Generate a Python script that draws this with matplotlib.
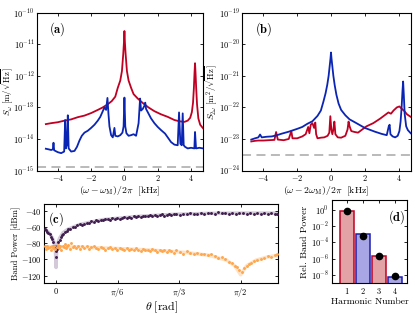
import numpy as np
import matplotlib
matplotlib.use("Agg")
import matplotlib.pyplot as plt
from matplotlib.ticker import LogLocator, NullLocator, FixedLocator

plt.rcParams['font.family'] = 'serif'
plt.rcParams['font.serif'] = ['cmr10']
plt.rcParams['mathtext.fontset'] = 'cm'
plt.rcParams['axes.formatter.use_mathtext'] = True
plt.rcParams['axes.unicode_minus'] = True

# ---- panel (a): first harmonic spectra, log10 of S_omega ----
fa_red = [-4.72, -4.4, -4.0, -3.6, -3.2, -2.8, -2.4, -2.0, -1.6, -1.3, -1.0, -0.76, -0.55,
          -0.4, -0.25, -0.15, -0.07, -0.03, 0.0, 0.03, 0.07, 0.15, 0.25, 0.4, 0.55, 0.8,
          1.1, 1.44, 1.8, 2.2, 2.6, 3.0, 3.3, 3.6, 3.8, 3.95, 4.05, 4.12, 4.17, 4.21,
          4.24, 4.27, 4.31, 4.36, 4.44, 4.55, 4.72]
la_red = [-13.53, -13.50, -13.47, -13.42, -13.38, -13.31, -13.26, -13.18, -13.08, -13.0,
          -12.9, -12.8, -12.66, -12.38, -12.15, -11.85, -11.3, -10.95, -10.58, -10.95,
          -11.3, -11.85, -12.15, -12.38, -12.58, -12.72, -12.86, -13.0, -13.12, -13.22,
          -13.3, -13.4, -13.44, -13.46, -13.42, -13.33, -13.15, -12.85, -12.4, -11.9,
          -11.6, -11.9, -12.4, -12.9, -13.35, -13.55, -13.66]

fa_blue = [-4.72, -4.55, -4.4, -4.3, -4.26, -4.22, -4.0, -3.8, -3.62, -3.56, -3.52, -3.46,
           -3.40, -3.35, -3.2, -3.0, -2.85, -2.7, -2.56, -2.4, -2.2, -2.0, -1.8, -1.6,
           -1.45, -1.3, -1.2, -1.1, -1.02, -0.96, -0.9, -0.8, -0.7, -0.6, -0.55, -0.4,
           -0.25, -0.12, -0.05, 0.0, 0.05, 0.12, 0.25, 0.4, 0.55, 0.7, 0.85, 0.94, 1.0,
           1.1, 1.2, 1.25, 1.3, 1.45, 1.6, 1.8, 2.0, 2.2, 2.44, 2.6, 2.8, 3.0, 3.2, 3.28,
           3.36, 3.44, 3.5, 3.56, 3.64, 3.8, 4.0, 4.2, 4.24, 4.3, 4.5, 4.72]
la_blue = [-14.31, -14.33, -14.35, -14.33, -14.12, -14.36, -14.42, -14.45, -14.40, -13.40,
           -14.3, -14.2, -13.25, -14.3, -14.40, -14.38, -14.25, -14.05, -13.90, -13.80,
           -13.74, -13.65, -13.55, -13.42, -13.30, -13.12, -13.0, -13.08, -12.70, -13.2,
           -13.6, -13.88, -13.95, -13.65, -13.9, -13.92, -13.88, -13.8, -13.6, -12.69,
           -13.6, -13.82, -13.90, -13.88, -13.85, -13.9, -13.5, -12.72, -13.1, -13.05,
           -12.95, -12.85, -13.05, -13.2, -13.35, -13.5, -13.62, -13.72, -13.83, -13.95,
           -14.1, -14.18, -14.2, -13.16, -14.15, -14.2, -13.19, -14.2, -14.25, -14.3,
           -14.28, -14.3, -13.78, -14.3, -14.28, -14.3]
a_floor = 1.3e-15

# ---- panel (b): second harmonic spectra, log10 of S_2omega ----
fb_blue = [-4.72, -4.5, -4.3, -4.2, -4.1, -3.8, -3.5, -3.2, -2.9, -2.5, -2.0, -1.7, -1.4,
           -1.1, -0.8, -0.6, -0.45, -0.32, -0.22, -0.14, -0.08, -0.03, 0.0, 0.03, 0.08,
           0.14, 0.22, 0.32, 0.45, 0.6, 0.85, 1.1, 1.44, 2.0, 2.6, 3.0, 3.3, 3.42, 3.47,
           3.52, 3.65, 3.8, 3.95, 4.05, 4.12, 4.18, 4.23, 4.27, 4.31, 4.36, 4.45, 4.55, 4.72]
lb_blue = [-23.02, -22.98, -22.95, -22.86, -22.95, -22.93, -22.92, -22.88, -22.83, -22.77,
           -22.68, -22.62, -22.52, -22.44, -22.27, -22.10, -21.82, -21.55, -21.28, -21.0,
           -20.7, -20.45, -20.26, -20.45, -20.7, -21.0, -21.3, -21.6, -21.88, -22.08,
           -22.25, -22.38, -22.48, -22.65, -22.77, -22.84, -22.88, -22.6, -22.55, -22.85,
           -22.92, -22.95, -22.9, -22.75, -22.45, -22.0, -21.5, -21.18, -21.6, -22.2,
           -22.6, -22.72, -22.82]

fb_red = [-4.72, -4.5, -4.3, -4.0, -3.7, -3.35, -3.25, -3.15, -2.8, -2.5, -2.35, -2.28,
          -2.0, -1.7, -1.5, -1.35, -1.28, -1.2, -1.1, -1.0, -0.93, -0.88, -0.8, -0.6, -0.4,
          -0.2, -0.1, -0.04, 0.02, 0.08, 0.14, 0.2, 0.26, 0.4, 0.6, 0.85, 0.98, 1.04, 1.1,
          1.2, 1.4, 1.6, 1.8, 2.1, 2.5, 2.9, 3.2, 3.4, 3.55, 3.7, 3.9, 4.05, 4.2, 4.35,
          4.5, 4.72]
lb_red = [-23.08, -23.06, -23.05, -23.05, -23.04, -23.03, -22.78, -23.02, -23.04, -23.0,
          -22.75, -22.98, -22.98, -22.92, -22.85, -22.62, -22.82, -22.55, -22.5, -22.65,
          -22.48, -22.85, -22.98, -22.96, -22.95, -22.9, -22.8, -22.28, -22.7, -22.85,
          -22.7, -22.45, -22.85, -22.95, -22.96, -22.9, -22.7, -22.45, -22.6, -22.75,
          -22.78, -22.8, -22.72, -22.6, -22.5, -22.36, -22.24, -22.16, -22.2, -22.1, -22.0,
          -21.97, -22.05, -22.12, -22.22, -22.3]
b_floor = 3.0e-24

# ---- panel (c): band power vs theta ----
th_p = [-0.095, -0.085, -0.075, -0.065, -0.055, -0.045, -0.035, -0.025, -0.015, -0.008,
        0.0, 0.0, 0.005, 0.012, 0.02, 0.03, 0.04, 0.05, 0.06, 0.075, 0.09, 0.105, 0.12,
        0.14, 0.16, 0.18, 0.2, 0.22, 0.24, 0.26, 0.28, 0.3, 0.32, 0.34, 0.36, 0.38, 0.4,
        0.42, 0.44, 0.46, 0.48, 0.5, 0.52, 0.54, 0.56, 0.58, 0.6, 0.62, 0.64, 0.66, 0.68,
        0.7, 0.72, 0.74, 0.76, 0.78, 0.8, 0.82, 0.84, 0.86, 0.88, 0.9, 0.92, 0.94, 0.96,
        0.98, 1.0, 1.02, 1.05, 1.08, 1.11, 1.14, 1.17, 1.2, 1.23, 1.26, 1.29, 1.32, 1.35,
        1.38, 1.41, 1.44, 1.47, 1.5, 1.53, 1.56, 1.59, 1.62, 1.65, 1.68, 1.71, 1.74, 1.77,
        1.8, 1.83, 1.86, 1.88]
pw_p = [-63, -64, -66, -68, -69, -72, -75, -79, -83, -86, -90, -97, -87, -83, -79, -76,
        -73, -70, -69, -66, -65, -63, -62, -60, -60, -58, -57, -57.5, -56, -55, -55.5, -53,
        -53.5, -52, -52.5, -51, -51.5, -50, -50.5, -51, -49.5, -50, -48.5, -50, -49, -48,
        -48.5, -47.5, -49, -47, -48, -46.5, -47.5, -46, -47, -46.5, -45.5, -46.5, -45,
        -46, -45.5, -44.5, -46, -45, -44, -45.5, -44.5, -44, -45, -43.5, -44.5, -43, -44,
        -43.5, -42.5, -44, -43, -42.5, -43.5, -42, -43, -42.5, -43.5, -43, -44, -43, -42.5,
        -43.5, -43, -44, -43, -43.5, -42.5, -43.5, -43, -44, -43.5]
th_o = [-0.095, -0.085, -0.075, -0.065, -0.055, -0.045, -0.035, -0.025, -0.015, -0.005,
        0.005, 0.015, 0.025, 0.035, 0.045, 0.055, 0.065, 0.075, 0.085, 0.095, 0.105, 0.115,
        0.125, 0.14, 0.155, 0.17, 0.185, 0.2, 0.22, 0.24, 0.26, 0.28, 0.3, 0.32, 0.34,
        0.36, 0.38, 0.4, 0.42, 0.44, 0.46, 0.48, 0.5, 0.52, 0.54, 0.56, 0.58, 0.6, 0.62,
        0.64, 0.66, 0.68, 0.7, 0.72, 0.74, 0.76, 0.78, 0.8, 0.82, 0.84, 0.86, 0.88, 0.9,
        0.92, 0.94, 0.96, 0.98, 1.0, 1.02, 1.05, 1.08, 1.11, 1.14, 1.17, 1.2, 1.23, 1.26,
        1.29, 1.32, 1.35, 1.38, 1.41, 1.44, 1.47, 1.5, 1.52, 1.54, 1.56, 1.58, 1.6, 1.62,
        1.64, 1.66, 1.68, 1.71, 1.74, 1.77, 1.8, 1.83, 1.86, 1.88]
pw_o = [-84, -87, -83, -86, -85, -88, -84, -86, -83, -87, -85, -82, -86, -84, -88, -83,
        -85, -81, -86, -84, -82, -87, -80, -85, -83, -86, -84, -87, -84, -86, -83, -87,
        -85, -84, -86, -87, -85, -86, -88, -86, -85, -87, -86, -88, -86, -87, -89, -86,
        -88, -87, -89, -86, -88, -90, -87, -89, -88, -90, -87, -89, -91, -88, -90, -89,
        -91, -88, -90, -92, -89, -91, -93, -90, -92, -94, -92, -94, -93, -95, -94, -96,
        -98, -97, -100, -103, -105, -108, -110, -113, -115, -111, -108, -106, -104, -102,
        -101, -99, -98, -96, -97, -95, -94]
th_pfit = [-0.1, -0.06, -0.03, -0.015, -0.005, 0.0, 0.005, 0.015, 0.03, 0.06, 0.1, 0.2,
           0.4, 0.7, 1.0, 1.3, 1.6, 1.89]
pw_pfit = [-62, -67, -74, -80, -90, -110, -90, -80, -74, -67, -63, -57, -51, -47, -44.5,
           -43.3, -43, -43]
th_ofit = [-0.1, 0.2, 0.5, 0.8, 1.1, 1.3, 1.45, 1.52, 1.57, 1.62, 1.7, 1.8, 1.89]
pw_ofit = [-84.5, -85, -86.5, -88.5, -91.5, -95, -101, -108, -119, -108, -101, -97, -95]

# ---- panel (d): relative band power per harmonic ----
harmonic = [1, 2, 3, 4]
rel_bar = [0.8, 1.0e-3, 2.0e-6, 6.5e-9]
rel_dot = [0.78, 7e-4, 2e-6, 7.5e-9]

red = '#c00022'
blue = '#0a25b4'
purple = '#3f1d4d'
orange = '#ffa74f'

fig = plt.figure(figsize=(4.15, 3.14), dpi=100)
ax_a = fig.add_axes([0.0892, 0.457, 0.400, 0.5025])
ax_b = fig.add_axes([0.5839, 0.457, 0.4058, 0.5025])
ax_c = fig.add_axes([0.1067, 0.0978, 0.5639, 0.2525])
ax_d = fig.add_axes([0.7993, 0.0978, 0.1822, 0.2653])

tick_kw = dict(direction='in', top=True, right=True, labelsize=6, length=2.5,
               width=0.6, pad=2)


def spec_axes(ax, f1, l1, c1, f2, l2, c2, floor, ylo, yhi):
    ax.plot(f1, 10.0 ** np.array(l1), color=c1, lw=1.3, zorder=3)
    ax.plot(f2, 10.0 ** np.array(l2), color=c2, lw=1.3, zorder=4)
    ax.axhline(floor, color='#b4b4b4', lw=1.3, dashes=(5, 3), zorder=2)
    ax.set_yscale('log')
    ax.set_ylim(ylo, yhi)
    ax.set_xlim(-5.25, 4.72)
    ax.set_xticks([-4, -2, 0, 2, 4])
    ax.yaxis.set_major_locator(LogLocator(base=10, numticks=10))
    ax.yaxis.set_minor_locator(NullLocator())
    ax.tick_params(**tick_kw)


spec_axes(ax_a, fa_red, la_red, red, fa_blue, la_blue, blue, a_floor, 1e-15, 1e-10)
ax_a.set_xlabel(r'$(\omega-\omega_{\rm M})/2\pi\ \ [{\rm kHz}]$', fontsize=7, labelpad=1)
ax_a.set_ylabel(r'$S_\omega\ [{\rm m}/\sqrt{{\rm Hz}}]$', fontsize=6.3)
ax_a.yaxis.set_label_coords(-0.133, 0.5)
ax_a.text(0.07, 0.955, r'$\mathbf{(a)}$', transform=ax_a.transAxes, fontsize=9,
          ha='left', va='top')

spec_axes(ax_b, fb_red, lb_red, red, fb_blue, lb_blue, blue, b_floor, 1e-24, 1e-19)
ax_b.set_xlabel(r'$(\omega-2\omega_{\rm M})/2\pi\ \ [{\rm kHz}]$', fontsize=7, labelpad=1)
ax_b.set_ylabel(r'$S_{2\omega}\ [{\rm m}^2/\sqrt{{\rm Hz}}]$', fontsize=6.3)
ax_b.yaxis.set_label_coords(-0.138, 0.5)
ax_b.text(0.075, 0.955, r'$\mathbf{(b)}$', transform=ax_b.transAxes, fontsize=9,
          ha='left', va='top')

# panel (c)
ax_c.plot(th_pfit, pw_pfit, color='#c9bcd0', lw=2.5, alpha=0.8, zorder=1)
ax_c.plot(th_ofit, pw_ofit, color='#fde2c6', lw=2.5, zorder=1)
ax_c.plot(th_p, pw_p, 'o', color=purple, ms=2.1, mew=0, zorder=3)
ax_c.plot(th_o, pw_o, 'o', color=orange, ms=2.1, mew=0, zorder=3)
ax_c.set_xlim(-0.1, 1.89)
ax_c.set_ylim(-129.5, -31.8)
ax_c.set_xticks([0, np.pi / 6, np.pi / 3, np.pi / 2])
ax_c.set_xticklabels([r'$0$', r'$\pi/6$', r'$\pi/3$', r'$\pi/2$'])
ax_c.set_yticks([-40, -60, -80, -100, -120])
ax_c.tick_params(**tick_kw)
ax_c.set_xlabel(r'$\theta\ [{\rm rad}]$', fontsize=8.5, labelpad=0)
ax_c.set_ylabel('Band Power [dBm]', fontsize=6.3)
ax_c.yaxis.set_label_coords(-0.1, 0.5)
ax_c.text(0.015, 0.925, r'$\mathbf{(c)}$', transform=ax_c.transAxes, fontsize=9,
          ha='left', va='top')

# panel (d)
fills = ['#e3a3a6', '#a9a6e6', '#e3a3a6', '#a9a6e6']
edges = [red, '#1c1cb0', red, '#1c1cb0']
ax_d.bar(harmonic, rel_bar, width=0.88, bottom=1e-12, color=fills, edgecolor=edges,
         linewidth=1.1, zorder=2)
ax_d.plot(harmonic, rel_dot, 'o', color='black', ms=4.5, zorder=3)
ax_d.set_yscale('log')
ax_d.set_ylim(9.5e-10, 17)
ax_d.set_xlim(0.02, 4.77)
ax_d.set_xticks(harmonic)
ax_d.yaxis.set_major_locator(FixedLocator([1e0, 1e-2, 1e-4, 1e-6, 1e-8]))
ax_d.yaxis.set_minor_locator(NullLocator())
ax_d.tick_params(**tick_kw)
ax_d.set_xlabel('Harmonic Number', fontsize=7, labelpad=1)
ax_d.set_ylabel('Rel. Band Power', fontsize=7, labelpad=1)
ax_d.text(0.97, 0.905, r'$\mathbf{(d)}$', transform=ax_d.transAxes, fontsize=9,
          ha='right', va='top')

for ax in (ax_a, ax_b, ax_c, ax_d):
    for s in ax.spines.values():
        s.set_linewidth(0.8)

fig.savefig('out.png', dpi=100)
